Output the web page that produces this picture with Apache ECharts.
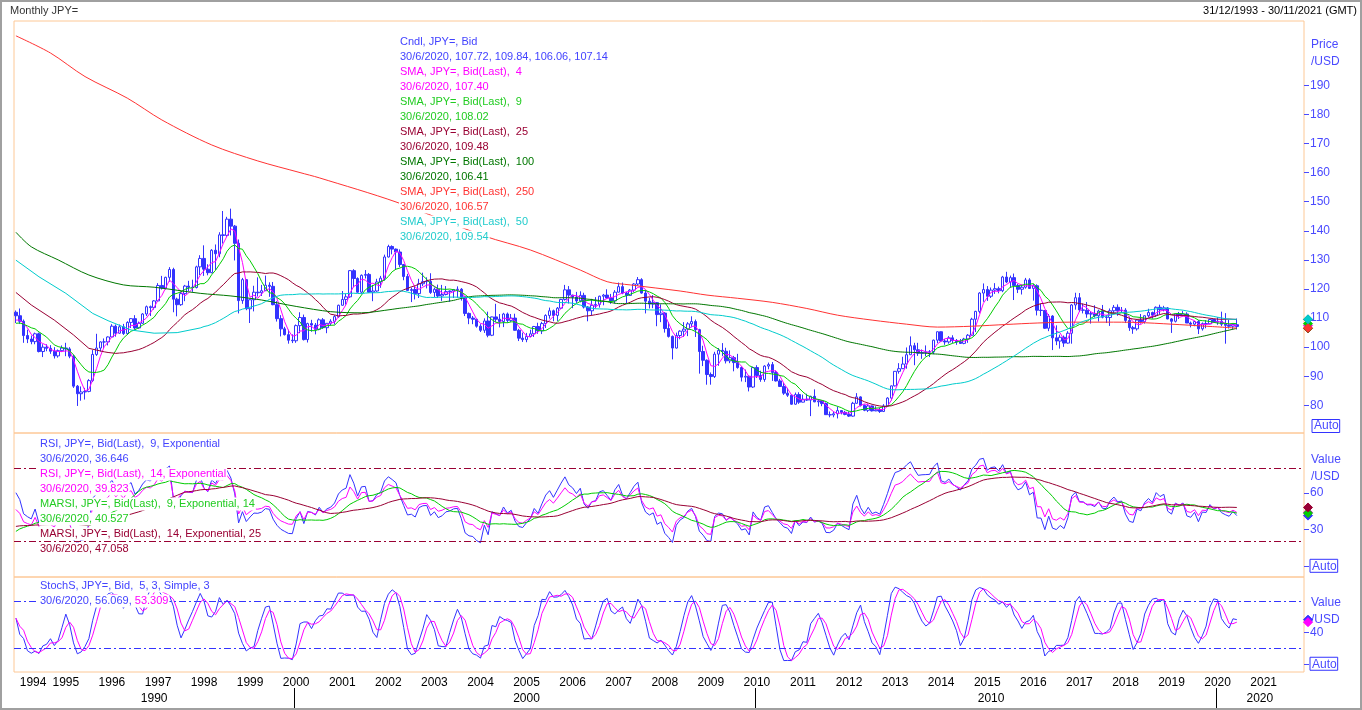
<!DOCTYPE html>
<html>
<head>
<meta charset="utf-8">
<script src="https://cdn.jsdelivr.net/npm/echarts@6/dist/echarts.min.js"></script>
<style>
html,body{margin:0;padding:0;background:#fff;}
#chart{width:1362px;height:710px;}
</style>
</head>
<body>
<div id="chart"></div>
<script>
// ---------- categories: monthly, 31/12/1993 .. 30/11/2021 ----------
const months = [];
for (let i = 0; i < 336; i++) {
  const t = 1993 * 12 + 11 + i;
  months.push(Math.floor(t / 12) + '-' + String(t % 12 + 1).padStart(2, '0'));
}

// ---------- monthly candles [open, close, low, high], 1993-12 .. 2020-06 ----------
const candles = [
  [112.0,110.8,108.3,112.6],
  // 1994
  [110.8,108.9,108.0,113.3],[108.9,104.0,101.5,109.5],[104.0,102.8,101.4,106.0],[102.8,101.9,101.0,104.0],
  [101.9,104.6,101.0,105.0],[104.6,98.5,98.2,105.0],[98.5,100.0,96.6,101.0],[100.0,99.6,98.6,101.0],
  [99.6,98.6,97.7,100.7],[98.6,97.0,96.1,100.0],[97.0,98.8,96.4,99.2],[98.8,99.7,98.3,100.6],
  // 1995
  [99.7,99.4,96.9,101.5],[99.4,96.9,96.2,100.0],[96.9,86.6,86.0,97.5],[86.6,84.0,79.8,87.0],
  [84.0,84.6,81.6,86.5],[84.6,84.8,82.0,86.0],[84.8,88.5,84.5,89.0],[88.5,97.5,88.0,99.0],
  [97.5,99.7,97.0,104.6],[99.7,101.8,98.5,102.0],[101.8,101.8,99.5,103.0],[101.8,103.5,100.6,103.7],
  // 1996
  [103.5,107.2,103.5,107.9],[107.2,104.8,103.6,107.8],[104.8,107.0,104.6,107.8],[107.0,104.7,104.2,108.0],
  [104.7,108.5,104.2,108.9],[108.5,109.8,106.6,110.0],[109.8,106.6,106.0,111.0],[106.6,108.2,106.3,108.8],
  [108.2,111.4,108.0,111.7],[111.4,113.9,110.7,114.3],[113.9,113.6,110.7,114.3],[113.6,115.9,112.9,116.2],
  // 1997
  [115.9,121.2,115.7,122.0],[121.2,120.3,119.8,124.5],[120.3,124.0,119.8,124.2],[124.0,126.7,122.5,127.5],
  [126.7,116.5,112.0,127.3],[116.5,114.6,110.6,117.0],[114.6,118.4,114.2,118.9],[118.4,121.0,115.8,121.4],
  [121.0,120.6,119.3,122.8],[120.6,120.5,119.0,123.2],[120.5,127.6,120.2,128.0],[127.6,130.5,124.8,131.6],
  // 1998
  [130.5,126.8,124.5,135.0],[126.8,125.6,124.7,128.5],[125.6,133.3,125.4,133.7],[133.3,132.1,126.5,135.3],
  [132.1,138.6,130.9,139.5],[138.6,138.4,135.6,146.8],[138.4,144.0,137.9,144.8],[144.0,141.6,138.4,147.6],
  [141.6,135.7,129.8,142.0],[135.7,116.0,111.6,137.0],[116.0,123.2,114.9,123.8],[123.2,113.2,112.7,123.3],
  // 1999
  [113.2,116.3,108.3,116.5],[116.3,118.9,112.3,121.1],[118.9,118.7,117.4,124.0],[118.7,119.4,117.6,121.4],
  [119.4,121.3,119.3,124.6],[121.3,120.9,117.3,122.3],[120.9,114.6,114.4,122.4],[114.6,109.8,108.8,115.8],
  [109.8,106.3,103.7,111.0],[106.3,104.3,104.0,107.0],[104.3,102.4,101.2,106.0],[102.4,102.2,101.4,104.4],
  // 2000
  [102.2,107.4,101.5,107.8],[107.4,110.2,104.8,112.0],[110.2,102.6,102.3,111.2],[102.6,108.1,101.6,108.4],
  [108.1,107.6,105.3,109.4],[107.6,106.1,104.4,108.3],[106.1,109.4,105.8,109.9],[109.4,106.7,106.3,110.0],
  [106.7,108.2,104.8,108.3],[108.2,108.9,107.4,109.6],[108.9,110.5,107.8,111.0],[110.5,114.4,110.1,114.6],
  // 2001
  [114.4,116.4,114.3,119.3],[116.4,117.3,114.6,118.3],[117.3,126.3,117.0,126.5],[126.3,123.6,120.6,126.8],
  [123.6,118.9,118.7,124.0],[118.9,124.7,118.4,125.0],[124.7,125.0,123.6,126.5],[125.0,118.9,118.7,125.5],
  [118.9,119.3,115.8,121.4],[119.3,122.4,119.0,123.5],[122.4,123.7,120.4,124.5],[123.7,131.0,122.9,131.8],
  // 2002
  [131.0,134.6,130.8,135.2],[134.6,133.7,131.9,135.0],[133.7,132.7,126.6,133.9],[132.7,128.4,127.5,133.6],
  [128.4,124.3,123.0,128.6],[124.3,119.5,119.4,125.2],[119.5,119.8,115.5,120.5],[119.8,118.4,116.4,120.8],
  [118.4,121.8,116.9,123.5],[121.8,122.5,121.0,125.6],[122.5,122.6,120.2,124.0],[122.6,118.8,118.3,125.4],
  // 2003
  [118.8,119.9,117.2,120.5],[119.9,117.6,116.9,121.5],[117.6,118.1,115.9,121.4],[118.1,119.1,117.8,121.0],
  [119.1,119.3,115.6,119.5],[119.3,119.8,116.9,120.0],[119.8,119.9,117.0,120.9],[119.9,117.3,116.0,120.3],
  [117.3,111.6,110.7,117.5],[111.6,110.0,107.9,111.9],[110.0,109.6,107.9,110.7],[109.6,107.2,106.7,109.8],
  // 2004
  [107.2,105.8,105.2,107.9],[105.8,109.0,104.9,109.9],[109.0,104.1,103.4,112.2],[104.1,110.4,103.8,110.5],
  [110.4,109.6,108.7,114.9],[109.6,108.8,106.8,111.4],[108.8,111.4,106.9,111.8],[111.4,109.2,108.4,111.9],
  [109.2,110.0,108.7,111.4],[110.0,105.8,105.7,111.5],[105.8,103.1,102.1,106.3],[103.1,102.6,101.8,105.0],
  // 2005
  [102.6,103.7,101.7,104.9],[103.7,104.6,103.4,106.0],[104.6,107.1,103.5,107.3],[107.1,105.6,104.6,108.4],
  [105.6,108.1,104.5,108.7],[108.1,110.9,106.6,111.3],[110.9,112.5,109.8,113.6],[112.5,110.9,108.9,112.9],
  [110.9,113.4,109.0,113.8],[113.4,116.4,113.2,116.6],[116.4,119.7,116.0,121.4],[119.7,117.9,115.0,121.0],
  // 2006
  [117.9,117.2,113.4,118.0],[117.2,115.9,115.2,119.0],[115.9,117.8,115.4,119.2],[117.8,113.8,113.3,118.7],
  [113.8,112.5,108.9,114.1],[112.5,114.4,110.9,116.6],[114.4,114.7,113.3,117.2],[114.7,117.5,113.6,117.7],
  [117.5,117.9,114.4,118.3],[117.9,116.9,116.6,119.9],[116.9,115.9,114.9,118.3],[115.9,118.9,115.0,119.6],
  // 2007
  [118.9,120.8,118.8,122.2],[120.8,118.6,118.2,122.2],[118.6,117.8,115.1,119.0],[117.8,119.6,117.6,120.0],
  [119.6,121.7,118.9,122.0],[121.7,123.2,121.1,124.1],[123.2,118.6,118.4,123.7],[118.6,115.8,111.6,119.6],
  [115.8,114.8,113.3,117.0],[114.8,115.3,113.4,117.9],[115.3,111.2,107.2,115.5],[111.2,111.7,108.6,114.7],
  // 2008
  [111.7,106.4,105.0,112.0],[106.4,103.7,103.3,108.6],[103.7,99.7,95.8,104.0],[99.7,104.0,99.5,105.0],
  [104.0,105.5,102.7,105.8],[105.5,106.2,103.5,108.6],[106.2,108.0,103.8,108.6],[108.0,108.8,106.8,110.6],
  [108.8,106.0,103.5,109.5],[106.0,98.5,90.9,106.3],[98.5,95.5,93.5,100.5],[95.5,90.6,87.1,95.8],
  // 2009
  [90.6,89.9,87.1,91.3],[89.9,97.6,89.4,98.4],[97.6,98.9,93.6,99.7],[98.9,98.6,96.9,101.4],
  [98.6,95.3,94.4,99.8],[95.3,96.4,94.5,98.9],[96.4,94.7,91.7,97.0],[94.7,93.0,92.6,97.7],
  [93.0,89.7,88.2,93.4],[89.7,90.0,88.0,92.3],[90.0,86.3,84.8,90.3],[86.3,93.0,86.0,93.3],
  // 2010
  [93.0,90.3,89.4,93.8],[90.3,88.9,88.1,91.9],[88.9,93.5,88.1,93.8],[93.5,94.0,92.4,94.7],
  [94.0,91.3,88.4,94.9],[91.3,88.4,88.2,92.0],[88.4,86.5,86.3,89.1],[86.5,84.2,83.6,87.7],
  [84.2,83.5,82.9,86.0],[83.5,80.4,80.2,83.8],[80.4,83.7,80.2,84.4],[83.7,81.1,80.5,84.5],
  // 2011
  [81.1,82.1,81.0,83.7],[82.1,81.8,81.5,84.0],[81.8,83.1,76.3,83.3],[83.1,81.2,81.1,85.5],
  [81.2,81.5,79.6,82.2],[81.5,80.6,79.7,81.6],[80.6,76.8,76.7,81.0],[76.8,76.7,75.9,77.9],
  [76.7,77.1,75.9,77.9],[77.1,78.2,75.5,79.6],[78.2,77.6,76.9,78.3],[77.6,76.9,76.6,78.1],
  // 2012
  [76.9,76.3,76.0,77.9],[76.3,80.7,76.1,81.2],[80.7,82.9,80.6,84.2],[82.9,80.0,79.6,83.1],
  [80.0,78.3,78.0,80.3],[78.3,79.8,77.7,80.6],[79.8,78.1,77.9,79.9],[78.1,78.4,78.0,79.7],
  [78.4,77.9,77.4,79.2],[77.9,79.8,77.7,80.4],[79.8,82.5,79.6,82.8],[82.5,86.7,81.7,86.8],
  // 2013
  [86.7,91.7,86.5,91.8],[91.7,92.6,90.9,94.5],[92.6,94.2,92.5,96.7],[94.2,97.4,92.6,99.9],
  [97.4,100.5,97.3,103.7],[100.5,99.1,93.8,101.5],[99.1,97.9,97.0,101.5],[97.9,98.2,96.0,99.2],
  [98.2,98.3,96.9,100.6],[98.3,98.4,96.6,99.0],[98.4,102.4,97.6,102.6],[102.4,105.3,101.4,105.4],
  // 2014
  [105.3,102.1,101.8,105.4],[102.1,101.8,100.8,102.8],[101.8,103.2,101.2,103.8],[103.2,102.3,101.4,104.1],
  [102.3,101.8,100.8,102.8],[101.8,101.3,101.1,102.8],[101.3,102.8,101.0,103.2],[102.8,104.1,101.5,104.5],
  [104.1,109.6,104.0,110.1],[109.6,112.3,105.2,112.5],[112.3,118.6,111.6,118.9],[118.6,119.8,115.6,121.9],
  // 2015
  [119.8,117.5,115.9,121.0],[117.5,119.6,116.9,120.5],[119.6,120.1,118.3,122.0],[120.1,119.4,118.5,120.8],
  [119.4,124.1,118.9,124.5],[124.1,122.4,122.0,125.9],[122.4,123.9,120.4,124.6],[123.9,121.2,116.2,125.3],
  [121.2,119.9,118.6,121.7],[119.9,120.6,118.1,121.5],[120.6,123.1,120.1,123.8],[123.1,120.2,120.0,123.7],
  // 2016
  [120.2,121.1,116.0,121.7],[121.1,112.7,110.9,121.6],[112.7,112.6,110.7,114.9],[112.6,106.5,106.3,112.7],
  [106.5,110.7,105.5,111.4],[110.7,103.2,99.0,111.0],[103.2,102.1,100.7,107.5],[102.1,103.4,99.5,104.3],
  [103.4,101.4,100.1,104.0],[101.4,104.8,101.2,105.5],[104.8,114.5,101.2,114.8],[114.5,117.0,112.9,118.7],
  // 2017
  [117.0,112.8,112.1,118.6],[112.8,112.7,111.6,115.0],[112.7,111.4,110.1,115.5],[111.4,111.5,108.1,112.2],
  [111.5,110.8,110.2,114.4],[110.8,112.4,108.8,112.9],[112.4,110.3,109.9,114.5],[110.3,110.2,108.3,111.1],
  [110.2,112.5,107.3,113.3],[112.5,113.7,111.7,114.5],[113.7,112.5,110.8,114.7],[112.5,112.7,111.9,113.8],
  // 2018
  [112.7,109.2,108.3,113.4],[109.2,106.7,105.6,110.5],[106.7,106.3,104.6,107.3],[106.3,109.3,105.7,109.6],
  [109.3,108.8,108.1,111.4],[108.8,110.8,108.1,110.9],[110.8,111.9,110.3,113.2],[111.9,111.0,109.8,112.2],
  [111.0,113.7,110.4,114.0],[113.7,112.9,111.4,114.6],[112.9,113.5,112.3,114.2],[113.5,109.7,109.6,113.8],
  // 2019
  [109.7,108.9,104.9,110.0],[108.9,111.4,108.5,111.5],[111.4,110.9,109.7,112.1],[110.9,111.4,110.8,112.4],
  [111.4,108.3,108.3,112.0],[108.3,107.9,106.8,108.8],[107.9,108.8,107.2,109.0],[108.8,106.3,104.5,109.3],
  [106.3,108.1,105.7,108.5],[108.1,108.0,106.5,109.3],[108.0,109.5,107.9,109.7],[109.5,108.6,108.4,109.7],
  // 2020
  [108.6,108.9,107.7,110.3],[108.9,107.9,107.2,112.2],[107.9,107.5,101.2,111.7],[107.5,107.2,106.4,109.4],
  [107.2,107.8,106.1,108.1],[107.72,107.14,106.06,109.84]
];

const sma25Early  = [['1993-12',118.8],['1994-04',114.5],['1994-10',109.3],['1995-03',104.2],['1995-07',99.6],['1995-11',98.4]];
const sma50Early  = [['1993-12',129.9],['1994-06',124.2],['1995-01',118.5],['1995-08',111.6],['1995-12',109.1],
                     ['1996-06',105.9],['1996-12',104.8],['1997-06',105.0],['1997-12',106.6]];
const sma100Early = [['1993-12',139.5],['1994-04',134.5],['1994-11',130.0],['1995-07',124.8],['1996-04',121.4],
                     ['1996-12',120.6],['1997-12',118.5],['1998-08',117.6],['1999-04',116.2],['2000-01',114.0],
                     ['2000-10',112.2],['2001-06',111.8],['2002-02',113.0]];
const sma250Read  = [['1993-12',207.0],['1994-09',201.1],['1995-06',193.0],['1996-05',185.6],['1997-02',178.1],
                     ['1998-03',169.5],['1999-03',164.0],['2000-02',160.0],['2000-07',158.2],['2002-03',149.9],
                     ['2004-02',138.2],['2005-02',133.4],['2006-03',126.5],['2006-10',122.5],['2007-04',121.4],
                     ['2008-05',119.3],['2008-12',117.9],['2009-08',116.8],['2010-05',115.4],['2011-02',113.3],
                     ['2011-10',111.0],['2012-07',109.3],['2013-04',107.9],['2013-12',106.9],['2014-09',107.2],
                     ['2015-06',107.8],['2016-02',108.3],['2016-11',108.6],['2017-08',108.6],['2018-04',108.5],
                     ['2019-01',107.9],['2019-10',107.2],['2020-06',106.57]];
// short averages / oscillators: first value (history before 1993-12)
const sma4Start = 109.3, sma9Start = 108.2;
const rsi9Start = 60.1, rsi14Start = 46.3, marsi9Start = 28.3, marsi14Start = 32.4;

// ---------- axis ticks / levels ----------
const priceTicks = [80,90,100,110,120,130,140,150,160,170,180,190];
const rsiTicks = [0,30,60];
const stochTicks = [0,40];
const oscLevels = [80,20];
const decadeTickAt = ['2000-01','2010-01','2020-01'];
const decadeLabelAt = {'1996-12':'1990','2005-01':'2000','2015-02':'2010','2020-12':'2020'};

// ---------- legend texts ----------
const priceLegend = [
  ['Cndl, JPY=, Bid','#4343ff'],['30/6/2020, 107.72, 109.84, 106.06, 107.14','#4343ff'],
  ['SMA, JPY=, Bid(Last),  4','#ff00ff'],['30/6/2020, 107.40','#ff00ff'],
  ['SMA, JPY=, Bid(Last),  9','#22cc22'],['30/6/2020, 108.02','#22cc22'],
  ['SMA, JPY=, Bid(Last),  25','#990033'],['30/6/2020, 109.48','#990033'],
  ['SMA, JPY=, Bid(Last),  100','#007700'],['30/6/2020, 106.41','#007700'],
  ['SMA, JPY=, Bid(Last),  250','#ff3333'],['30/6/2020, 106.57','#ff3333'],
  ['SMA, JPY=, Bid(Last),  50','#22cccc'],['30/6/2020, 109.54','#22cccc']
];
const rsiLegend = [
  ['RSI, JPY=, Bid(Last),  9, Exponential','#4343ff'],['30/6/2020, 36.646','#4343ff'],
  ['RSI, JPY=, Bid(Last),  14, Exponential','#ff00ff'],['30/6/2020, 39.823','#ff00ff'],
  ['MARSI, JPY=, Bid(Last),  9, Exponential, 14','#22cc22'],['30/6/2020, 40.527','#22cc22'],
  ['MARSI, JPY=, Bid(Last),  14, Exponential, 25','#990033'],['30/6/2020, 47.058','#990033']
];

// ---------- indicator definitions applied to the candle data ----------
const closes = candles.map(r => r[1]);
const lows = candles.map(r => r[2]);
const highs = candles.map(r => r[3]);
const r2 = v => Math.round(v * 100) / 100;
const idxOf = d => months.indexOf(d);

function smaFromStart(vals, n, first) {
  const p = (first * n - vals[0]) / (n - 1);
  const out = []; let sum = 0;
  for (let i = 0; i < vals.length; i++) {
    sum += vals[i]; if (i >= n) sum -= vals[i - n];
    out.push([i, r2(i < n - 1 ? (sum + p * (n - 1 - i)) / n : sum / n)]);
  }
  return out;
}
function smaWithEarly(vals, n, early) {
  const out = early.map(([d, v]) => [idxOf(d), v]);
  let sum = 0;
  for (let i = 0; i < vals.length; i++) {
    sum += vals[i]; if (i >= n) sum -= vals[i - n];
    if (i >= n - 1) out.push([i, r2(sum / n)]);
  }
  return out;
}
function rsi(vals, n, first) {
  let a = 0; for (let i = 1; i <= n; i++) a += Math.abs(vals[i] - vals[i - 1]); a /= n;
  let g = a * first / 100, l = a * (1 - first / 100);
  const out = [first];
  for (let i = 1; i < vals.length; i++) {
    const d = vals[i] - vals[i - 1];
    g = (g * (n - 1) + Math.max(d, 0)) / n; l = (l * (n - 1) + Math.max(-d, 0)) / n;
    out.push(r2(100 * g / (g + l)));
  }
  return out;
}
function progSma(vals, n) {
  return vals.map((v, i) => { const s = vals.slice(Math.max(0, i - n + 1), i + 1); return s.reduce((a, b) => a + b, 0) / s.length; });
}
const rsi9 = rsi(closes, 9, rsi9Start);
const rsi14 = rsi(closes, 14, rsi14Start);
const marsi9 = smaFromStart(rsi9, 14, marsi9Start);
const marsi14 = smaFromStart(rsi14, 25, marsi14Start);
const rawK = closes.map((c, i) => {
  const a = Math.max(0, i - 4);
  const hh = Math.max(...highs.slice(a, i + 1)), ll = Math.min(...lows.slice(a, i + 1));
  return 100 * (c - ll) / (hh - ll);
});
const slowK = progSma(rawK, 3).map(r2);
const slowD = progSma(slowK, 3).map(r2);

const sma4 = smaFromStart(closes, 4, sma4Start);
const sma9 = smaFromStart(closes, 9, sma9Start);
const sma25 = smaWithEarly(closes, 25, sma25Early);
const sma50 = smaWithEarly(closes, 50, sma50Early);
const sma100 = smaWithEarly(closes, 100, sma100Early);
const sma250 = sma250Read.map(([d, v]) => [idxOf(d), v]);

// ---------- chart ----------
const FONT = 'Liberation Sans, Arial, sans-serif';
const AXC = '#4a4aff';
const G = {left: 14, width: 1290};
const chart = echarts.init(document.getElementById('chart'), null, {renderer: 'canvas'});

function lineSeries(name, data, color, x, y, extra) {
  return Object.assign({name, type: 'line', data, xAxisIndex: x, yAxisIndex: y, symbol: 'none',
    lineStyle: {color, width: 1}, itemStyle: {color}, z: 3, silent: true}, extra || {});
}
const rich = {auto: {borderColor: '#3333ff', borderWidth: 1, padding: [1, 1, 0, 2], color: AXC, fontSize: 12, fontFamily: FONT}};
function yAxisCfg(grid, min, max, ticks, fmt) {
  return {type: 'value', gridIndex: grid, position: 'right', min, max, scale: true,
    axisLine: {show: false}, splitLine: {show: false},
    axisTick: {show: true, length: 5, lineStyle: {color: AXC}, customValues: ticks},
    axisLabel: {show: true, customValues: ticks, color: AXC, fontSize: 12, fontFamily: FONT, margin: 6, formatter: fmt, rich}};
}
function xAxisCfg(grid, extra) {
  return Object.assign({type: 'category', gridIndex: grid, data: months, boundaryGap: true,
    axisLine: {show: false}, axisTick: {show: false}, axisLabel: {show: false}, splitLine: {show: false}}, extra || {});
}
const gridBorder = {show: true, borderColor: '#fdc896', borderWidth: 1, backgroundColor: 'rgba(0,0,0,0)'};

const option = {
  animation: false,
  backgroundColor: '#ffffff',
  textStyle: {fontFamily: FONT},
  grid: [
    Object.assign({left: G.left, width: G.width, top: 21, height: 412}, gridBorder),
    Object.assign({left: G.left, width: G.width, top: 433, height: 144}, gridBorder),
    Object.assign({left: G.left, width: G.width, top: 577, height: 95}, gridBorder)
  ],
  xAxis: [
    xAxisCfg(0), xAxisCfg(1),
    xAxisCfg(2, {position: 'bottom', axisLabel: {show: true, interval: (i, v) => v.endsWith('-01'), alignMinLabel: 'left',
      formatter: v => v.slice(0, 4), color: '#000', fontSize: 12, fontFamily: FONT, margin: 5}}),
    xAxisCfg(2, {position: 'bottom', offset: 16,
      axisLabel: {show: true, interval: (i, v) => v in decadeLabelAt, formatter: v => decadeLabelAt[v] || '',
        color: '#000', fontSize: 12, fontFamily: FONT, margin: 5}})
  ],
  yAxis: [
    yAxisCfg(0, 70.5, 212.1, priceTicks, v => String(v)),
    yAxisCfg(1, -9.2, 109.2, rsiTicks, v => v === 0 ? '{auto|Auto}' : String(v)),
    yAxisCfg(2, -10.5, 110.5, stochTicks, v => v === 0 ? '{auto|Auto}' : String(v))
  ],
  series: [
    {name: 'Cndl', type: 'candlestick', data: candles, xAxisIndex: 0, yAxisIndex: 0, barWidth: 3, z: 2, silent: true,
      itemStyle: {color: '#ffffff', color0: '#3333ff', borderColor: '#3333ff', borderColor0: '#3333ff', borderWidth: 1}},
    lineSeries('SMA4', sma4, '#ff00ff', 0, 0),
    lineSeries('SMA9', sma9, '#00cc00', 0, 0),
    lineSeries('SMA25', sma25, '#990033', 0, 0),
    lineSeries('SMA100', sma100, '#007700', 0, 0, {smooth: 0.3}),
    lineSeries('SMA250', sma250, '#ff3333', 0, 0, {smooth: 0.3}),
    lineSeries('SMA50', sma50, '#00cccc', 0, 0),
    lineSeries('RSI9', rsi9, '#3333ff', 1, 1, {markLine: {silent: true, symbol: ['none', 'none'], label: {show: false},
      lineStyle: {color: '#990033', type: [7, 3, 2, 3], width: 1}, data: oscLevels.map(v => ({yAxis: v}))}}),
    lineSeries('RSI14', rsi14, '#ff00ff', 1, 1),
    lineSeries('MARSI9', marsi9, '#00cc00', 1, 1),
    lineSeries('MARSI14', marsi14, '#990033', 1, 1),
    lineSeries('StochK', slowK, '#3333ff', 2, 2, {markLine: {silent: true, symbol: ['none', 'none'], label: {show: false},
      lineStyle: {color: '#3333ff', type: [7, 3, 2, 3], width: 1}, data: oscLevels.map(v => ({yAxis: v}))}}),
    lineSeries('StochD', slowD, '#ff00ff', 2, 2)
  ]
};
chart.setOption(option);

// ---------- texts, legends, decade ticks and end-of-series markers ----------
const gfx = [];
function txt(text, x, y, color, opts) {
  gfx.push(Object.assign({type: 'text', x, y, z: 100, silent: true,
    style: Object.assign({text, fill: color, fontSize: 11, fontFamily: FONT, verticalAlign: 'middle', align: 'left'}, (opts && opts.style) || {})},
    (opts && opts.el) || {}));
}
gfx.push({type: 'rect', shape: {x: 1, y: 1, width: 1360, height: 708}, style: {fill: 'none', stroke: '#a0a0a0', lineWidth: 2}, z: 101, silent: true});
txt('Monthly JPY=', 10, 11, '#333333');
txt('31/12/1993 - 30/11/2021 (GMT)', 1357, 11, '#000000', {style: {align: 'right'}});
txt('Price', 1311, 45, AXC, {style: {fontSize: 12}});
txt('/USD', 1311, 62, AXC, {style: {fontSize: 12}});
txt('Auto', 1312, 426, AXC, {style: {fontSize: 12, borderColor: '#3333ff', borderWidth: 1, padding: [1, 1, 0, 2]}});
txt('Value', 1311, 460, AXC, {style: {fontSize: 12}});
txt('/USD', 1311, 477, AXC, {style: {fontSize: 12}});
txt('Value', 1311, 603, AXC, {style: {fontSize: 12}});
txt('/USD', 1311, 620, AXC, {style: {fontSize: 12}});
priceLegend.forEach(([t, c], i) => txt(t, 399, 42 + i * 15, c, {style: {backgroundColor: '#ffffff', padding: [1, 1]}}));
rsiLegend.forEach(([t, c], i) => txt(t, 39, 444 + i * 15, c, {style: {backgroundColor: '#ffffff', padding: [1, 1]}}));
txt('StochS, JPY=, Bid,  5, 3, Simple, 3', 39, 586, '#4343ff', {style: {backgroundColor: '#ffffff', padding: [1, 1]}});
gfx.push({type: 'text', x: 39, y: 601, z: 100, silent: true, style: {text: '{b|30/6/2020, 56.069, }{m|53.309}',
  verticalAlign: 'middle', backgroundColor: '#ffffff', padding: [1, 1],
  rich: {b: {fill: '#4343ff', color: '#4343ff', fontSize: 11, fontFamily: FONT}, m: {fill: '#ff00ff', color: '#ff00ff', fontSize: 11, fontFamily: FONT}}}});

// decade separators on the date axis (at the start of each decade's first month)
decadeTickAt.forEach(d => {
  const i = idxOf(d);
  const c0 = chart.convertToPixel({xAxisIndex: 3}, i), c1 = chart.convertToPixel({xAxisIndex: 3}, i + 1);
  const x = Math.round(c0 - (c1 - c0) / 2) + 0.5;
  gfx.push({type: 'line', z: 100, silent: true, shape: {x1: x, y1: 688, x2: x, y2: 708}, style: {stroke: '#000', lineWidth: 1}});
});

const mx = G.left + G.width + 4;
function marker(yAxisIndex, value, color) {
  const y = chart.convertToPixel({yAxisIndex}, value);
  gfx.push({type: 'polygon', z: 102, silent: true, shape: {points: [[mx, y - 4.5], [mx + 4.5, y], [mx, y + 4.5], [mx - 4.5, y]]},
    style: {fill: color, stroke: color, lineWidth: 1}});
}
const last = a => { const v = a[a.length - 1]; return Array.isArray(v) ? v[1] : v; };
[[sma4, '#ff00ff'], [sma9, '#00cc00'], [sma25, '#990033'], [sma100, '#007700'], [sma250, '#ff3333'], [sma50, '#00cccc']]
  .forEach(([a, c]) => marker(0, last(a), c));
[[rsi9, '#3333ff'], [rsi14, '#ff00ff'], [marsi9, '#00cc00'], [marsi14, '#990033']].forEach(([a, c]) => marker(1, last(a), c));
[[slowK, '#3333ff'], [slowD, '#ff00ff']].forEach(([a, c]) => marker(2, last(a), c));

chart.setOption({graphic: gfx});
</script>
</body>
</html>
